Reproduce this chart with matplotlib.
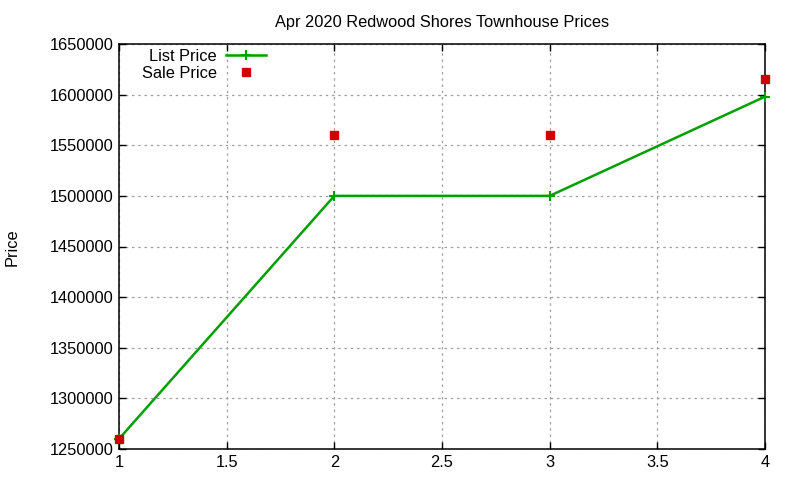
import matplotlib
matplotlib.use("Agg")
import matplotlib.pyplot as plt

x = [1, 2, 3, 4]
list_price = [1260000, 1500000, 1500000, 1598000]
sale_price = [1260000, 1560000, 1560000, 1615000]
xticks = [1, 1.5, 2, 2.5, 3, 3.5, 4]
yticks = [1250000, 1300000, 1350000, 1400000, 1450000, 1500000, 1550000, 1600000, 1650000]

plt.rcParams['font.family'] = ['Liberation Sans', 'DejaVu Sans']
plt.rcParams['font.size'] = 11.8

fig = plt.figure(figsize=(8, 4.8), dpi=100)
ax = fig.add_axes([119/800, 1-449/480, (765-119)/800, (449-44)/480])

ax.plot(x, list_price, color='#00a000', lw=1.8, marker='+', ms=7, mew=1.5,
        label='List Price', clip_on=False, zorder=3)
ax.plot(x, sale_price, ls='none', marker='s', ms=5.8, color='#cc0000',
        label='Sale Price', clip_on=False, zorder=4)

ax.set_xlim(1, 4)
ax.set_ylim(1250000, 1650000)
ax.set_xticks(xticks)
ax.set_xticklabels([f"{t:g}" for t in xticks])
ax.set_yticks(yticks)
ax.set_yticklabels([str(t) for t in yticks])
ax.tick_params(direction='in', top=True, right=True, length=5, width=1, pad=4, colors='black')
ax.grid(True, color='#a0a0a0', ls=(0, (2, 3)), lw=0.9)
ax.set_axisbelow(True)
for s in ax.spines.values():
    s.set_linewidth(1.1)

ax.set_title('Apr 2020 Redwood Shores Townhouse Prices', fontsize=11.8, pad=12)
fig.text(12/800, 1-247/480, 'Price', rotation=90, va='center', ha='center', fontsize=11.8)

leg = ax.legend(loc='upper left', bbox_to_anchor=(0.018, 1.017), markerfirst=False,
                frameon=False, handlelength=2.45, handletextpad=0.55, labelspacing=0.15,
                borderaxespad=0.3, fontsize=11.8)
for t in leg.get_texts():
    t.set_ha('right')

fig.savefig('out.png', dpi=100)
